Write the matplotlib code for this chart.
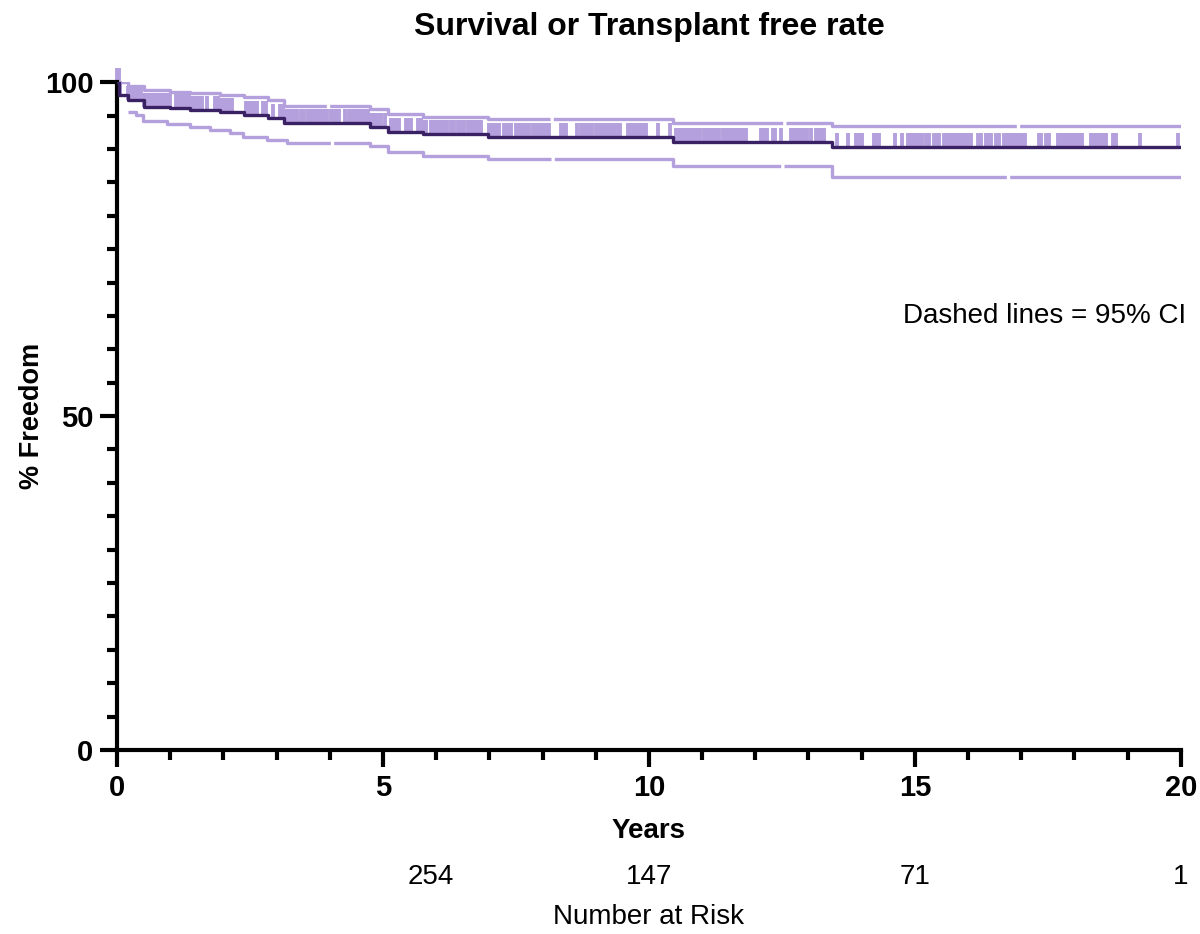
import numpy as np
import matplotlib.pyplot as plt

# Kaplan-Meier estimate (step after each time)
km_t = [0, 0.04, 0.2, 0.5, 1.0, 1.37, 1.94, 2.38, 2.83, 3.14, 4.76, 5.09, 5.75, 6.97, 10.45, 13.45, 20]
km_s = [100, 98.1, 97.3, 96.3, 96.1, 95.8, 95.5, 95.1, 94.6, 93.9, 93.3, 92.5, 92.2, 91.8, 91.0, 90.3, 90.3]

# 95% CI bands
lo_t = [0.2, 0.35, 0.49, 0.94, 1.37, 1.75, 2.12, 2.37, 2.82, 3.2, 4.76, 5.09, 5.75, 6.97, 10.45, 13.45, 20]
lo_s = [95.5, 95.1, 94.2, 93.7, 93.3, 92.8, 92.4, 91.8, 91.3, 90.9, 90.4, 89.5, 88.9, 88.5, 87.4, 85.8, 85.8]
up_t = [0, 0.2, 0.5, 1.0, 1.37, 1.94, 2.38, 2.83, 3.14, 4.76, 5.09, 5.75, 6.97, 10.45, 13.45, 20]
up_s = [100, 99.5, 98.8, 98.6, 98.4, 98.1, 97.8, 97.3, 96.4, 96.0, 95.3, 94.8, 94.5, 93.9, 93.4, 93.4]

# censored observations (years)
censor_t = [
    0.0, 0.03, 0.06,
    0.2, 0.25, 0.3, 0.35, 0.4, 0.45, 0.5, 0.55, 0.6, 0.65, 0.7, 0.75, 0.8, 0.85, 0.9, 0.95, 1.0,
    1.1, 1.15, 1.2, 1.26, 1.31, 1.36, 1.4, 1.45, 1.5, 1.55, 1.59, 1.69, 1.85, 1.9, 1.95,
    2.02, 2.07, 2.12, 2.17, 2.42, 2.47, 2.52, 2.57, 2.63, 2.74, 2.8, 2.93,
    3.07, 3.12, 3.17, 3.22, 3.27, 3.32, 3.38, 3.46, 3.51, 3.59, 3.65, 3.7, 3.75, 3.8, 3.84, 3.89, 3.95,
    4.02, 4.07, 4.12, 4.17, 4.28, 4.36, 4.41, 4.46, 4.51, 4.56, 4.61, 4.66, 4.71, 4.77, 4.82, 4.87, 4.92, 4.97,
    5.03, 5.15, 5.2, 5.25, 5.3, 5.43, 5.49, 5.53, 5.66, 5.71, 5.76, 5.81, 5.9, 5.95,
    6.0, 6.05, 6.1, 6.15, 6.2, 6.28, 6.33, 6.41, 6.46, 6.52, 6.6, 6.65, 6.71, 6.76, 6.81, 6.85, 6.99,
    7.04, 7.09, 7.14, 7.18, 7.28, 7.33, 7.38, 7.41, 7.5, 7.55, 7.6, 7.65, 7.7, 7.74, 7.82, 7.87, 7.92, 7.97,
    8.02, 8.07, 8.12, 8.35, 8.4, 8.44, 8.64, 8.72, 8.77, 8.82, 8.87, 8.93,
    9.0, 9.05, 9.1, 9.15, 9.2, 9.25, 9.3, 9.35, 9.4, 9.45, 9.61, 9.66, 9.72, 9.77, 9.82, 9.87, 9.92, 9.95,
    10.18, 10.4, 10.51, 10.56, 10.61, 10.66, 10.71, 10.76, 10.81, 10.86, 10.91, 10.96,
    11.04, 11.09, 11.14, 11.19, 11.24, 11.29, 11.32, 11.39, 11.44, 11.49, 11.54,
    11.6, 11.65, 11.7, 11.75, 11.8, 11.83,
    12.11, 12.16, 12.22, 12.33, 12.38, 12.49, 12.67, 12.72, 12.77, 12.82, 12.86, 12.92, 12.97,
    13.05, 13.14, 13.19, 13.24, 13.29, 13.53, 13.75, 13.89, 13.95,
    14.0, 14.23, 14.28, 14.32, 14.62, 14.75, 14.87, 14.92, 14.97,
    15.02, 15.08, 15.13, 15.21, 15.26, 15.36, 15.41, 15.45, 15.55, 15.6, 15.65, 15.7, 15.75, 15.8, 15.85, 15.9, 15.95,
    16.0, 16.06, 16.19, 16.24, 16.34, 16.39, 16.43, 16.52, 16.58,
    16.67, 16.72, 16.77, 16.82, 16.87, 16.92, 16.97, 17.02, 17.07,
    17.33, 17.37, 17.46, 17.52, 17.69, 17.74, 17.79, 17.84, 17.89, 17.94, 17.99,
    18.04, 18.09, 18.14, 18.31, 18.36, 18.41, 18.46, 18.51, 18.56, 18.59, 18.72, 18.78,
    19.23, 19.94,
]

risk_x = [5.9, 10, 15, 20]
risk_n = ['254', '147', '71', '1']

light = '#B4A0DC'
dark = '#3A2163'

plt.rcParams['font.family'] = ['Liberation Sans', 'DejaVu Sans']

fig = plt.figure(figsize=(12, 9.34), dpi=100)
ax = fig.add_axes([0.0975, 0.197, 0.8865, 0.715])

# censor ticks sit on the curve and point upward
idx = np.searchsorted(km_t, censor_t, side='right') - 1
cy = np.array(km_s)[idx]
ax.vlines(censor_t, cy, cy + 2.1, color=light, lw=2.8, clip_on=False, zorder=2)

ax.step(up_t, up_s, where='post', color=light, lw=2.4, linestyle=(0, (70, 1)), zorder=2)
ax.step(lo_t, lo_s, where='post', color=light, lw=2.4, linestyle=(0, (70, 1)), zorder=2)
ax.step(km_t, km_s, where='post', color=dark, lw=2.4, zorder=3)

ax.set_xlim(0, 20)
ax.set_ylim(0, 100)

for s in ['top', 'right']:
    ax.spines[s].set_visible(False)
for s in ['left', 'bottom']:
    ax.spines[s].set_linewidth(3)

ax.set_xticks([0, 5, 10, 15, 20])
ax.set_xticks(np.arange(0, 21, 1), minor=True)
ax.set_yticks([0, 50, 100])
ax.set_yticks(np.arange(0, 101, 5), minor=True)
ax.tick_params(which='major', length=12, width=3, labelsize=21, pad=5)
ax.tick_params(which='minor', length=7, width=3)
for lab in ax.get_xticklabels() + ax.get_yticklabels():
    lab.set_fontweight('bold')

ax.set_xlabel('Years', fontsize=20, fontweight='bold', labelpad=12)
ax.set_ylabel('% Freedom', fontsize=19.5, fontweight='bold', labelpad=0)
ax.set_title('Survival or Transplant free rate', fontsize=23, fontweight='bold', pad=34)

ax.text(20.1, 65, 'Dashed lines = 95% CI', ha='right', va='center', fontsize=20)

for x, n in zip(risk_x, risk_n):
    ax.text(x, -19, n, ha='center', va='center', fontsize=20, clip_on=False)
ax.text(10, -25, 'Number at Risk', ha='center', va='center', fontsize=20, clip_on=False)

fig.savefig('out.png', dpi=100)
